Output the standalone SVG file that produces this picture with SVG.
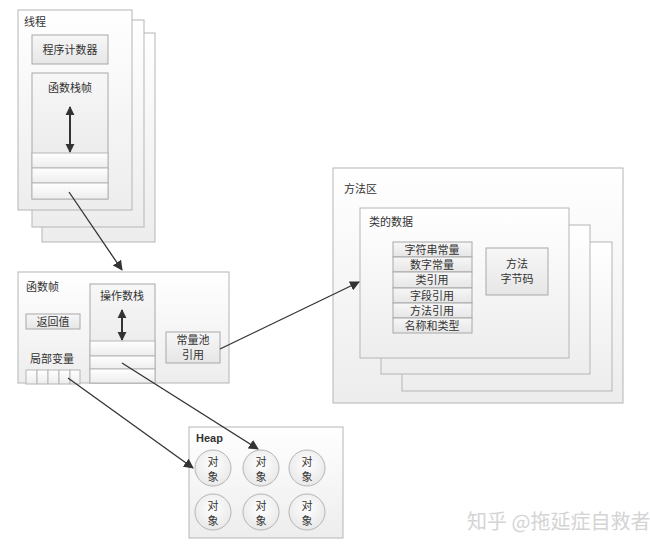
<svg xmlns="http://www.w3.org/2000/svg" width="650" height="544" viewBox="0 0 650 544">
<defs>
<linearGradient id="g" x1="0" y1="0" x2="0" y2="1"><stop offset="0" stop-color="#ffffff"/><stop offset="1" stop-color="#ededed"/></linearGradient>
<linearGradient id="gs" x1="0" y1="0" x2="0" y2="1"><stop offset="0" stop-color="#f7f7f7"/><stop offset="1" stop-color="#e6e6e6"/></linearGradient>
<radialGradient id="gc" cx="0.5" cy="0.4" r="0.6"><stop offset="0" stop-color="#ffffff"/><stop offset="1" stop-color="#e8e8e8"/></radialGradient>
<marker id="ah" viewBox="0 0 10 10" refX="9" refY="5" markerWidth="10" markerHeight="10" markerUnits="userSpaceOnUse" orient="auto"><path d="M0,0 L10,5 L0,10 z" fill="#333"/></marker>
<marker id="dh" viewBox="0 0 10 10" refX="9" refY="5" markerWidth="9" markerHeight="11" markerUnits="userSpaceOnUse" orient="auto-start-reverse"><path d="M0,0 L10,5 L0,10 z" fill="#333"/></marker>
</defs>
<style>
.b{fill:url(#g);stroke:#b5b5b5;stroke-width:1}
.s{fill:url(#gs);stroke:#a8a8a8;stroke-width:1}
.c{fill:url(#gc);stroke:#b5b5b5;stroke-width:1}
.t{font-family:"Noto Sans CJK SC","Liberation Sans",sans-serif;font-size:11px;fill:#333}
.m{text-anchor:middle}
.ln{stroke:#333;stroke-width:1.3;fill:none}
.da{stroke:#333;stroke-width:2;fill:none}
</style>
<rect width="650" height="544" fill="#ffffff"/>
<g id="thread">
<rect class="b" x="42" y="33" width="113" height="209"/>
<rect class="b" x="32" y="20" width="112" height="207"/>
<rect class="b" x="18" y="10" width="114" height="200"/>
<text class="t" x="24" y="26">线程</text>
<rect class="s" x="32" y="35" width="76" height="29"/>
<text class="t m" x="70" y="54">程序计数器</text>
<rect class="s" x="32" y="73" width="76" height="126"/>
<text class="t m" x="70" y="92">函数栈帧</text>
<line class="da" x1="70" y1="107" x2="70" y2="152" marker-start="url(#dh)" marker-end="url(#dh)"/>
<rect class="b" x="32" y="153" width="76" height="15"/>
<rect class="b" x="32" y="168" width="76" height="15"/>
<rect class="b" x="32" y="183" width="76" height="16"/>
</g>
<g id="frame">
<rect class="b" x="18" y="272" width="211" height="111"/>
<text class="t" x="26" y="291">函数帧</text>
<rect class="s" x="26" y="314" width="54" height="15"/>
<text class="t m" x="53" y="326">返回值</text>
<text class="t m" x="52" y="363">局部变量</text>
<rect class="b" x="26" y="370" width="11" height="14"/>
<rect class="b" x="37" y="370" width="11" height="14"/>
<rect class="b" x="48" y="370" width="11" height="14"/>
<rect class="b" x="59" y="370" width="11" height="14"/>
<rect class="b" x="70" y="370" width="10" height="14"/>
<rect class="s" x="90" y="284" width="65" height="99"/>
<text class="t m" x="122" y="300">操作数栈</text>
<line class="da" x1="122" y1="310" x2="122" y2="340" marker-start="url(#dh)" marker-end="url(#dh)"/>
<rect class="b" x="90" y="341" width="65" height="15"/>
<rect class="b" x="90" y="356" width="65" height="13"/>
<rect class="b" x="90" y="369" width="65" height="14"/>
<rect class="s" x="166" y="332" width="54" height="31"/>
<text class="t m" x="193" y="344">常量池</text>
<text class="t m" x="193" y="359">引用</text>
</g>
<g id="method-area">
<rect class="b" x="333" y="168" width="290" height="235"/>
<text class="t" x="344" y="193">方法区</text>
<rect class="b" x="402" y="242" width="210" height="149"/>
<rect class="b" x="381" y="225" width="209" height="149"/>
<rect class="b" x="360" y="208" width="209" height="150"/>
<text class="t" x="369" y="226">类的数据</text>
<rect class="s" x="393" y="242" width="79" height="15"/>
<text class="t m" x="432" y="254">字符串常量</text>
<rect class="s" x="393" y="257" width="79" height="15"/>
<text class="t m" x="432" y="269">数字常量</text>
<rect class="s" x="393" y="272" width="79" height="16"/>
<text class="t m" x="432" y="284">类引用</text>
<rect class="s" x="393" y="288" width="79" height="15"/>
<text class="t m" x="432" y="300">字段引用</text>
<rect class="s" x="393" y="303" width="79" height="15"/>
<text class="t m" x="432" y="315">方法引用</text>
<rect class="s" x="393" y="318" width="79" height="15"/>
<text class="t m" x="432" y="330">名称和类型</text>
<rect class="s" x="486" y="248" width="62" height="47"/>
<text class="t m" x="517" y="268">方法</text>
<text class="t m" x="517" y="283">字节码</text>
</g>
<g id="heap">
<rect class="b" x="189" y="427" width="154" height="111"/>
<text x="196" y="442" style="font-family:'Liberation Sans',sans-serif;font-size:11px;font-weight:bold;fill:#333">Heap</text>
<circle class="c" cx="213" cy="468" r="18"/><text class="t m" x="213" y="466">对</text><text class="t m" x="213" y="481">象</text>
<circle class="c" cx="261" cy="468" r="18"/><text class="t m" x="261" y="466">对</text><text class="t m" x="261" y="481">象</text>
<circle class="c" cx="307" cy="468" r="18"/><text class="t m" x="307" y="466">对</text><text class="t m" x="307" y="481">象</text>
<circle class="c" cx="213" cy="512" r="18"/><text class="t m" x="213" y="510">对</text><text class="t m" x="213" y="525">象</text>
<circle class="c" cx="261" cy="512" r="18"/><text class="t m" x="261" y="510">对</text><text class="t m" x="261" y="525">象</text>
<circle class="c" cx="307" cy="512" r="18"/><text class="t m" x="307" y="510">对</text><text class="t m" x="307" y="525">象</text>
</g>
<g id="connectors">
<line class="ln" x1="69" y1="192" x2="122" y2="270" marker-end="url(#ah)"/>
<line class="ln" x1="220" y1="349" x2="359" y2="282" marker-end="url(#ah)"/>
<line class="ln" x1="68" y1="378" x2="193" y2="468" marker-end="url(#ah)"/>
<line class="ln" x1="122" y1="363" x2="258" y2="449" marker-end="url(#ah)"/>
</g>
<text x="467" y="529" style="font-family:'Noto Sans CJK SC','Liberation Sans',sans-serif;font-size:20px;fill:#d4d4d4">知乎 @拖延症自救者</text>
</svg>
